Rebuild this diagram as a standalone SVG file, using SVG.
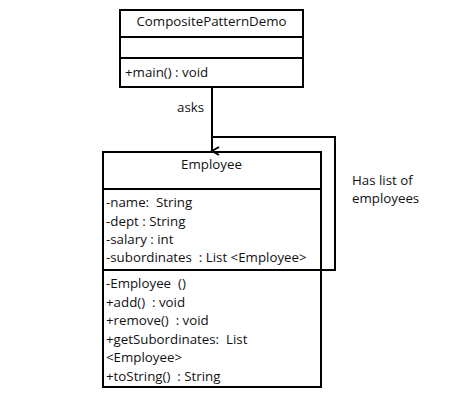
<svg xmlns="http://www.w3.org/2000/svg" width="459" height="405" viewBox="0 0 459 405">
<defs>
<style>
.box{fill:#fff;stroke:#000;stroke-width:2}
.ln{fill:none;stroke:#000;stroke-width:2}
.t{font-family:"Open Sans","Liberation Sans",sans-serif;font-size:13.3px;fill:#111;white-space:pre}
</style>
<marker id="arr" markerWidth="12" markerHeight="12" refX="6" refY="10" orient="auto" markerUnits="userSpaceOnUse" viewBox="0 0 12 12">
<path d="M2,3 L6,10 L10,3" fill="none" stroke="#000" stroke-width="2"/>
</marker>
</defs>
<rect width="459" height="405" fill="#fff"/>
<g id="CompositePatternDemo">
<rect class="box" x="120" y="10" width="183" height="77"/>
<line class="ln" x1="120" y1="37" x2="303" y2="37"/>
<line class="ln" x1="120" y1="58" x2="303" y2="58"/>
<text class="t" x="211.5" y="26" text-anchor="middle">CompositePatternDemo</text>
<text class="t" x="125" y="77">+main() : void</text>
</g>
<g id="Employee">
<rect class="box" x="103" y="152" width="218" height="235"/>
<line class="ln" x1="103" y1="189" x2="321" y2="189"/>
<line class="ln" x1="103" y1="270" x2="321" y2="270"/>
<text class="t" x="211.5" y="169" text-anchor="middle">Employee</text>
<text class="t" x="106" y="207">-name:  String</text>
<text class="t" x="106" y="226">-dept : String</text>
<text class="t" x="106" y="244">-salary : int</text>
<text class="t" x="106" y="262">-subordinates  : List &lt;Employee&gt;</text>
<text class="t" x="106" y="288">-Employee  ()</text>
<text class="t" x="106" y="307">+add()  : void</text>
<text class="t" x="106" y="325">+remove()  : void</text>
<text class="t" x="106" y="344">+getSubordinates:  List</text>
<text class="t" x="106" y="362">&lt;Employee&gt;</text>
<text class="t" x="106" y="381">+toString()  : String</text>
</g>
<g id="connectors">
<polyline class="ln" points="321,270 335,270 335,137 212,137"/>
<line class="ln" x1="212" y1="87" x2="212" y2="151" marker-end="url(#arr)"/>
<text class="t" x="177" y="112">asks</text>
<text class="t" x="352" y="185">Has list of</text>
<text class="t" x="352" y="203">employees</text>
</g>
</svg>
